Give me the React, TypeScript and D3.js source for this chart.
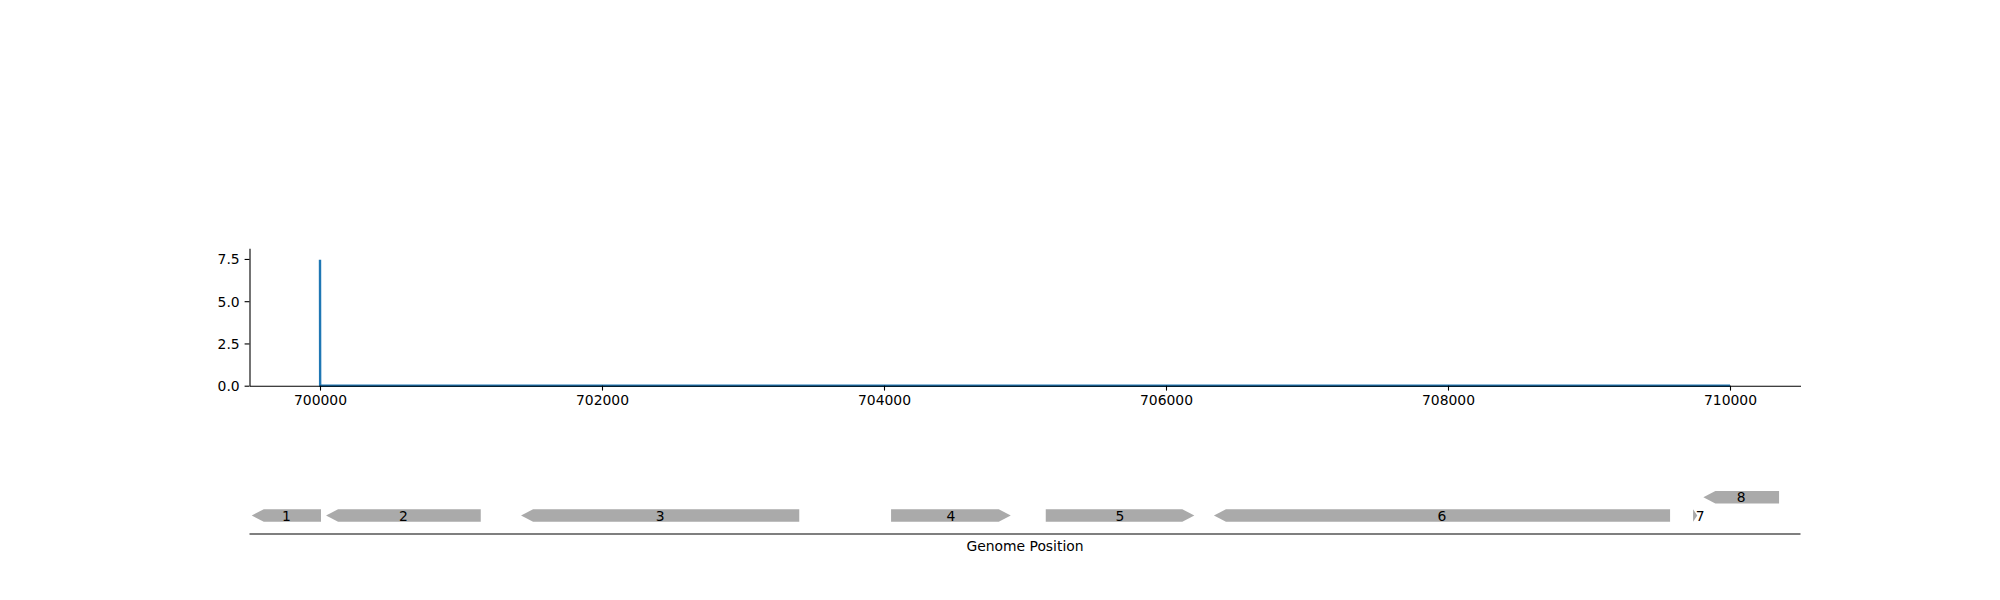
import React, { useEffect, useRef } from 'react';
import * as d3 from 'd3';

// coverage trace
const coverageX = [700000, 700001, 710000];
const coverageY = [7.45, 0, 0];

const xTicks = [700000, 702000, 704000, 706000, 708000, 710000];
const yTicks = [0, 2.5, 5, 7.5];

// gene track
const geneLabels = ['1', '2', '3', '4', '5', '6', '7', '8'];
const geneStarts = [699516, 700043, 701426, 704050, 705147, 706340, 709738, 709811];
const geneEnds = [700007, 701140, 703399, 704899, 706201, 709575, 709768, 710348];
const geneStrands = [-1, -1, -1, 1, 1, -1, 1, -1];
const geneLevels = [0, 0, 0, 0, 0, 0, 0, 1];

const font = '"DejaVu Sans", sans-serif';

export default function App() {
  const ref = useRef<SVGSVGElement>(null);

  useEffect(() => {
    const svg = d3.select(ref.current);
    svg.selectAll('*').remove();

    const x = d3.scaleLinear().domain([699500, 710500]).range([249.5, 1800.5]);
    const y = d3.scaleLinear().domain([0, 8.13]).range([385.7, 248.3]);

    // coverage line (drawn under the spines)
    const line = d3
      .line<number>()
      .x((d, i) => x(coverageX[i]))
      .y((d) => y(d));

    svg
      .append('path')
      .attr('d', line(coverageY))
      .attr('fill', 'none')
      .attr('stroke', '#1f77b4')
      .attr('stroke-width', 2.4)
      .attr('stroke-linejoin', 'round');

    const axisBottom = d3
      .axisBottom(x)
      .tickValues(xTicks)
      .tickFormat((d) => String(d))
      .tickSizeInner(4.9)
      .tickSizeOuter(0)
      .tickPadding(4.9);

    const gx = svg.append('g').attr('transform', 'translate(0,' + y(0) + ')').call(axisBottom);

    const axisLeft = d3
      .axisLeft(y)
      .tickValues(yTicks)
      .tickFormat(d3.format('.1f'))
      .tickSizeInner(4.9)
      .tickSizeOuter(0)
      .tickPadding(4.9);

    const gy = svg.append('g').attr('transform', 'translate(' + x(699500) + ',0)').call(axisLeft);

    [gx, gy].forEach((g) => {
      g.selectAll('path').attr('stroke', '#000').attr('stroke-width', 1.1);
      g.selectAll('line').attr('stroke', '#000').attr('stroke-width', 1.1);
      g.selectAll('text')
        .attr('font-family', font)
        .attr('font-size', 13.9)
        .attr('fill', '#000');
    });
    gx.selectAll('text').attr('dy', '0.71em');
    gy.selectAll('text').attr('dy', '0.36em');

    // gene track
    const levelY = (lvl: number) => 515.5 - lvl * 18.3;
    const h = 12.4;
    const head = 12;

    const genes = svg.append('g');
    geneLabels.forEach((label, i) => {
      const x0 = x(geneStarts[i]);
      const x1 = x(geneEnds[i]);
      const cy = levelY(geneLevels[i]);
      const top = cy - h / 2;
      const bot = cy + h / 2;
      const hl = Math.min(head, x1 - x0);
      let pts: [number, number][];
      if (geneStrands[i] > 0) {
        pts = [[x0, top], [x1 - hl, top], [x1, cy], [x1 - hl, bot], [x0, bot]];
      } else {
        pts = [[x1, top], [x0 + hl, top], [x0, cy], [x0 + hl, bot], [x1, bot]];
      }
      genes
        .append('path')
        .attr('d', 'M' + pts.map((p) => p.join(',')).join('L') + 'Z')
        .attr('fill', '#aaaaaa')
        .attr('stroke', 'none');

      genes
        .append('text')
        .attr('x', geneStrands[i] > 0 && x1 - x0 < head ? x1 + 3 : (x0 + x1) / 2)
        .attr('y', cy)
        .attr('dy', '0.36em')
        .attr('text-anchor', 'middle')
        .attr('font-family', font)
        .attr('font-size', 13.9)
        .attr('fill', '#000')
        .text(label);
    });

    svg
      .append('line')
      .attr('x1', x(699500))
      .attr('x2', x(710500))
      .attr('y1', 534)
      .attr('y2', 534)
      .attr('stroke', '#000')
      .attr('stroke-width', 1.1);

    svg
      .append('text')
      .attr('x', (x(699500) + x(710500)) / 2)
      .attr('y', 550.7)
      .attr('text-anchor', 'middle')
      .attr('font-family', font)
      .attr('font-size', 13.9)
      .attr('fill', '#000')
      .text('Genome Position');
  }, []);

  return (
    <svg
      ref={ref}
      width={2000}
      height={600}
      style={{ position: 'absolute', left: 0, top: 0, background: '#fff' }}
    />
  );
}
